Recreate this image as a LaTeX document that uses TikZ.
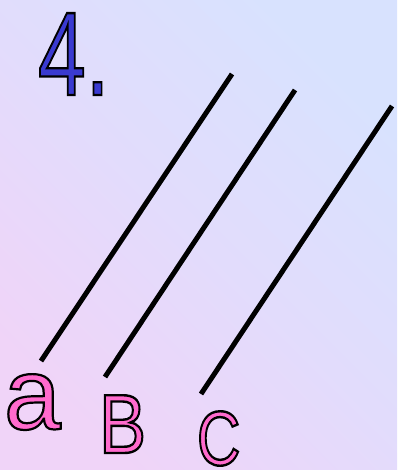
\documentclass[tikz,border=0pt]{standalone}
\usepackage{fontspec}
\setmainfont{Liberation Sans}
\definecolor{bgpink}{HTML}{F0D4F8}
\definecolor{bgmid}{HTML}{E2DCFC}
\definecolor{bgblue}{HTML}{D8E2FE}
\definecolor{labelpink}{HTML}{FF6ACD}
\definecolor{numblue}{HTML}{3A3AD0}
\newcommand{\outlinedtext}[3]{{\color{#1}\special{pdf:literal direct 0 0 0 RG #2 w 2 Tr}#3\special{pdf:literal direct 0 Tr}}}
\begin{document}
\begin{tikzpicture}[x=1pt,y=-1pt,
  segline/.style={line width=5pt, black},
  lbl/.style={inner sep=0pt, outer sep=0pt, anchor=base west}]
\useasboundingbox (0,0) rectangle (397,470);
\shade[left color=bgblue, right color=bgpink, middle color=bgmid, shading angle=-45] (0,0) rectangle (397,470);
% title
\node[lbl, xscale=0.72] (num) at (38,95) {\fontsize{119}{119}\selectfont\outlinedtext{numblue}{2.4}{4.}};
% lines
\coordinate (a1) at (41,361);
\coordinate (a2) at (232,74);
\coordinate (b1) at (105,377);
\coordinate (b2) at (295,90);
\coordinate (c1) at (201,394);
\coordinate (c2) at (392,106);
\draw[segline] (a1) -- (a2);
\draw[segline] (b1) -- (b2);
\draw[segline] (c1) -- (c2);
% labels
\node[lbl] (la) at (4,429) {\fontsize{102}{102}\selectfont\outlinedtext{labelpink}{2.2}{a}};
\node[lbl, xscale=0.84] (lb) at (99,453) {\fontsize{84}{84}\selectfont\outlinedtext{labelpink}{2.4}{B}};
\node[lbl, xscale=0.78] (lc) at (197,465) {\fontsize{77}{77}\selectfont\outlinedtext{labelpink}{2.4}{C}};
\end{tikzpicture}
\end{document}
